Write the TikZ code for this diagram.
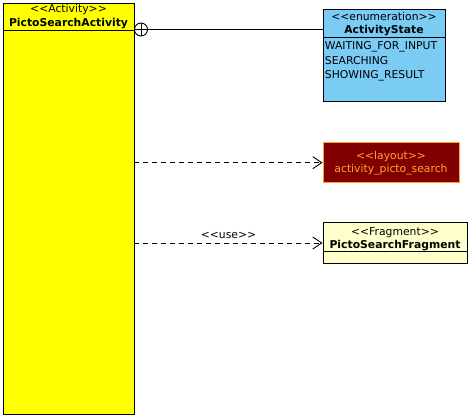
\documentclass[tikz,border=0pt]{standalone}
\usepackage{fontspec}
\setmainfont{DejaVu Sans}
\usepackage{tikz}
\usetikzlibrary{arrows.meta}
\definecolor{actyellow}{RGB}{255,255,0}
\definecolor{enumblue}{RGB}{122,204,245}
\definecolor{laydark}{RGB}{128,0,0}
\definecolor{layorange}{RGB}{255,165,40}
\definecolor{fragyellow}{RGB}{255,255,204}
\tikzset{
  umlbox/.style={draw,inner sep=0pt},
  umltext/.style={font=\fontsize{10.8}{13}\selectfont,inner sep=0pt,anchor=base},
  umlbold/.style={umltext,font=\fontsize{10.8}{13}\selectfont\bfseries},
  dep/.style={dash pattern=on 5pt off 4pt,-{Straight Barb[length=9pt,width=12pt]}},
}
\newcommand{\stereo}[1]{<\kern0pt<#1>\kern0pt>}
\begin{document}
\begin{tikzpicture}[x=1pt,y=-1pt,line width=0.9pt]
      \useasboundingbox (0,0) rectangle (471,419);
      \node (act) at (68.5,208.5) [umlbox,fill=actyellow,minimum width=131pt,minimum height=411pt] {};
      \draw (3,30)--(134,30);
      \node (actst) at (68.5,12.7) [umltext] {\stereo{Activity}};
      \node (actname) at (68.5,26.3) [umlbold] {PictoSearchActivity};
      \node (enum) at (384,55) [umlbox,fill=enumblue,minimum width=122pt,minimum height=92pt] {};
      \draw (323,37)--(445,37);
      \node (enumst) at (384,20.7) [umltext] {\stereo{enumeration}};
      \node (enumname) at (384,33.7) [umlbold] {ActivityState};
      \node (wait) at (324.5,49.3) [umltext,anchor=base west] {WAITING\_FOR\_INPUT};
      \node (search) at (324.5,64.3) [umltext,anchor=base west] {SEARCHING};
      \node (show) at (324.5,78.3) [umltext,anchor=base west] {SHOWING\_RESULT};
      \node (nest) at (141,29.5) [circle,draw,fill=white,minimum size=13pt,inner sep=0pt] {};
      \draw (nest.north)--(nest.south) (nest.west)--(nest.east);
      \draw (nest.east)--(nest.east -| enum.west);
      \node (layout) at (391,162.7) [umlbox,draw=layorange,fill=laydark,minimum width=136pt,minimum height=40pt] {};
      \node (layst) at (391,160) [umltext,text=layorange] {\stereo{layout}};
      \node (layname) at (391,172.7) [umltext,text=layorange] {activity\_picto\_search};
      \draw [dep](act.east |- layout.west)--(layout.west);
      \node (frag) at (395,243) [umlbox,fill=fragyellow,minimum width=144pt,minimum height=40.6pt] {};
      \draw (323,251.7)--(467,251.7);
      \node (fragst) at (395,235.3) [umltext] {\stereo{Fragment}};
      \node (fragname) at (395,248.7) [umlbold] {PictoSearchFragment};
      \draw [dep](act.east |- frag.west)--(frag.west) node [midway,above=3.5pt,umltext,anchor=south] {\stereo{use}};
    \end{tikzpicture}
\end{document}
